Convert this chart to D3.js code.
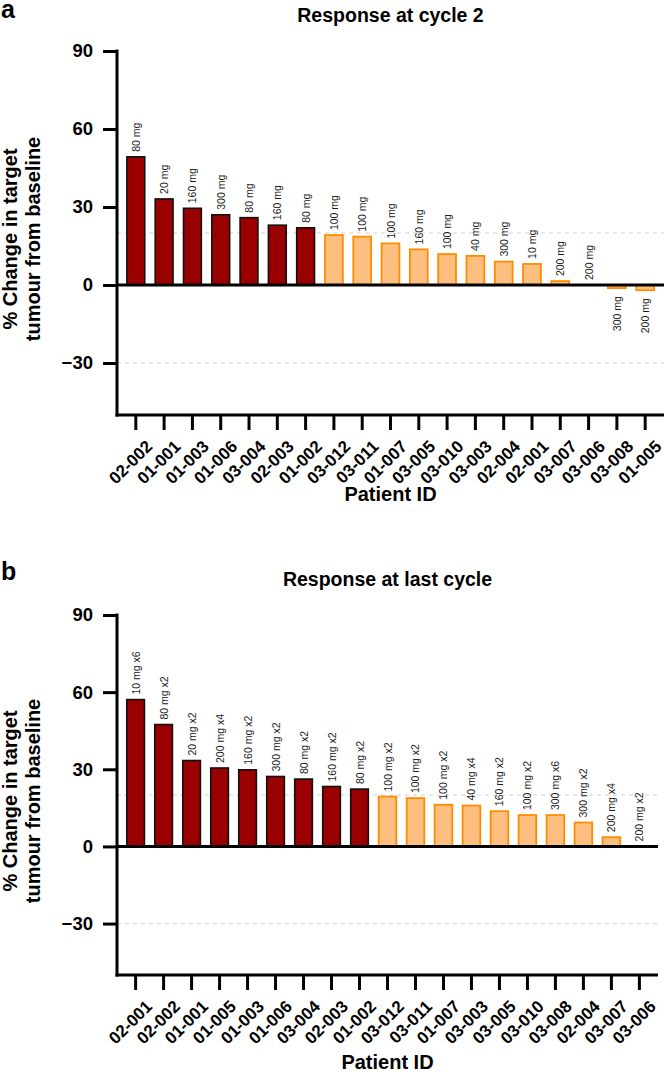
<!DOCTYPE html>
<html><head><meta charset="utf-8">
<script src="https://cdn.jsdelivr.net/npm/d3@7"></script>
<style>
html,body{margin:0;padding:0;background:#fff;}
svg{display:block;font-family:"Liberation Sans",Arial,Helvetica,sans-serif;}
</style></head>
<body>
<svg id="chart" width="666" height="1083"></svg>
<script>
// ---------- data ----------
const patientsA = ["02-002","01-001","01-003","01-006","03-004","02-003","01-002","03-012","03-011","01-007","03-005","03-010","03-003","02-004","02-001","03-007","03-006","03-008","01-005"];
const valuesA   = [49.3,33.1,29.5,27.0,25.9,23.0,22.0,19.2,18.6,16.0,13.7,11.9,11.2,9.0,8.1,1.5,0,-1.2,-2.0];
const dosesA    = ["80 mg","20 mg","160 mg","300 mg","80 mg","160 mg","80 mg","100 mg","100 mg","100 mg","160 mg","100 mg","40 mg","300 mg","10 mg","200 mg","200 mg","300 mg","200 mg"];

const patientsB = ["02-001","02-002","01-001","01-005","01-003","01-006","03-004","02-003","01-002","03-012","03-011","01-007","03-003","03-005","03-010","03-008","02-004","03-007","03-006"];
const valuesB   = [57.1,47.4,33.4,30.5,29.8,27.2,26.2,23.3,22.3,19.4,18.8,16.2,15.9,13.7,12.2,12.2,9.3,3.6,0];
const dosesB    = ["10 mg x6","80 mg x2","20 mg x2","200 mg x4","160 mg x2","300 mg x2","80 mg x2","160 mg x2","80 mg x2","100 mg x2","100 mg x2","100 mg x2","40 mg x4","160 mg x2","100 mg x2","300 mg x6","300 mg x2","200 mg x4","200 mg x2"];

const yTicks = [-30, 0, 30, 60, 90];
const yTickLabels = ["\u221230","0","30","60","90"];
const refLines = [20, -30];
const yDomain = [-50, 90];
const threshold = 20;

const svg = d3.select("#chart");

function panel(cfg){
  const g = svg.append("g");
  const y = d3.scaleLinear().domain(yDomain).range([cfg.bottom, cfg.top]);
  const x = d3.scaleBand().domain(cfg.patients).range([cfg.left, cfg.right])
              .paddingInner(0.37).paddingOuter(0.35);
  const data = cfg.patients.map((p,i)=>({p, v:cfg.values[i], d:cfg.doses[i]}));

  // panel letter
  g.append("text").attr("x",1).attr("y",cfg.letterY).text(cfg.letter)
    .attr("font-size",25).attr("font-weight","bold");
  // title
  g.append("text").attr("x",(cfg.left+cfg.right)/2).attr("y",cfg.titleY)
    .attr("text-anchor","middle").attr("font-size",19.5).attr("font-weight","bold").text(cfg.title);

  // dashed reference lines
  g.selectAll(".ref").data(refLines).join("line")
    .attr("x1",cfg.left).attr("x2",cfg.right)
    .attr("y1",d=>y(d)).attr("y2",d=>y(d))
    .attr("stroke","#cfcfcf").attr("stroke-width",1).attr("stroke-dasharray","4,4");

  // bars
  g.selectAll(".bar").data(data).join("rect")
    .attr("x",d=>x(d.p)).attr("width",x.bandwidth())
    .attr("y",d=>y(Math.max(0,d.v))).attr("height",d=>Math.abs(y(d.v)-y(0)))
    .attr("fill",d=>d.v>threshold?"#9b0000":"#fdbf80")
    .attr("stroke",d=>d.v>threshold?"#111":"#ff8c00")
    .attr("stroke-width",d=>d.v>threshold?1.6:1.8);

  // dose labels
  g.selectAll(".dose").data(data).join("text")
    .attr("transform",d=>{
      const cx = x(d.p)+x.bandwidth()/2+4;
      const yy = d.v>=0 ? y(d.v)-5 : y(d.v)+8;
      return `translate(${cx},${yy}) rotate(-90)`;
    })
    .attr("text-anchor",d=>d.v>=0?"start":"end")
    .attr("font-size",10.5).attr("fill","#1a1a1a").text(d=>d.d);

  // zero line
  g.append("line").attr("x1",cfg.left).attr("x2",cfg.right)
    .attr("y1",y(0)).attr("y2",y(0)).attr("stroke","#000").attr("stroke-width",3);

  // y axis
  const yAxis = d3.axisLeft(y).tickValues(yTicks).tickSize(14).tickPadding(10)
    .tickFormat((d,i)=>yTickLabels[i]);
  const ya = g.append("g").attr("transform",`translate(${cfg.left},0)`).call(yAxis);
  ya.select(".domain").remove();
  ya.selectAll(".tick line").attr("stroke","#000").attr("stroke-width",3);
  ya.selectAll(".tick text").attr("font-size",18.5).attr("font-weight","bold")
    .attr("font-family","'Liberation Sans',Arial,sans-serif").attr("fill","#000");
  g.append("line").attr("x1",cfg.left).attr("x2",cfg.left)
    .attr("y1",y(yDomain[1])-1.5).attr("y2",y(yDomain[0])+1.5)
    .attr("stroke","#000").attr("stroke-width",3);

  // x axis
  const xAxis = d3.axisBottom(x).tickSize(15).tickPadding(0);
  const xa = g.append("g").attr("transform",`translate(0,${cfg.bottom})`).call(xAxis);
  xa.select(".domain").remove();
  xa.selectAll(".tick line").attr("stroke","#000").attr("stroke-width",3);
  xa.selectAll(".tick text").attr("font-size",17).attr("font-weight","bold")
    .attr("font-family","'Liberation Sans',Arial,sans-serif").attr("fill","#000")
    .attr("text-anchor","end").attr("dy",0)
    .attr("transform","translate(7,22) rotate(-45)");
  g.append("line").attr("x1",cfg.left-1.5).attr("x2",cfg.right)
    .attr("y1",cfg.bottom).attr("y2",cfg.bottom).attr("stroke","#000").attr("stroke-width",3);

  // axis titles
  const cy = (cfg.top+cfg.bottom)/2 + 6;
  const yt = g.append("text").attr("transform",`translate(17,${cy}) rotate(-90)`)
    .attr("text-anchor","middle").attr("font-size",20).attr("font-weight","bold");
  yt.append("tspan").attr("x",0).attr("dy",0).text("% Change in target");
  yt.append("tspan").attr("x",0).attr("dy",23).text("tumour from baseline");
  g.append("text").attr("x",(cfg.left+cfg.right)/2).attr("y",cfg.bottom+cfg.xTitleOff)
    .attr("text-anchor","middle").attr("font-size",20).attr("font-weight","bold").text("Patient ID");
}

panel({letter:"a", letterY:18, title:"Response at cycle 2", titleY:22,
  patients:patientsA, values:valuesA, doses:dosesA,
  top:51, bottom:415, left:117, right:664, xTitleOff:86});
panel({letter:"b", letterY:580, title:"Response at last cycle", titleY:586,
  patients:patientsB, values:valuesB, doses:dosesB,
  top:615, bottom:975, left:117, right:658, xTitleOff:94});
</script>
</body></html>
